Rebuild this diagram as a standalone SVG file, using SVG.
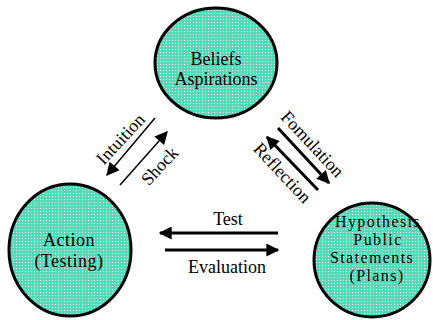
<svg xmlns="http://www.w3.org/2000/svg" width="433" height="320" viewBox="0 0 433 320">
<defs>
<pattern id="dots" width="3" height="3" patternUnits="userSpaceOnUse">
<rect width="3" height="3" fill="#55dab8"/>
<rect x="1" y="1" width="1" height="1" fill="#ffffff"/>
</pattern>
<marker id="ah" viewBox="0 0 10 10" refX="9" refY="5" markerUnits="userSpaceOnUse" markerWidth="15" markerHeight="13" orient="auto">
<path d="M0,0 L10,5 L0,10 Z" fill="#000"/>
</marker>
</defs>
<style>
.node{fill:url(#dots);stroke:#000;stroke-width:3}
.lbl{font-family:'Liberation Serif','DejaVu Serif',serif;font-size:18px;fill:#000;text-anchor:middle}
.hyp{font-size:16px;letter-spacing:1.4px}
.thin{stroke:#000;stroke-width:1.5;fill:none}
.thick{stroke:#000;stroke-width:3;fill:none}
</style>
<rect width="433" height="320" fill="#fff"/>
<g id="beliefs">
<ellipse class="node" cx="216" cy="63" rx="61" ry="55"/>
<text class="lbl" x="216" y="65">Beliefs</text>
<text class="lbl" x="216" y="85">Aspirations</text>
</g>
<g id="action">
<ellipse class="node" cx="70" cy="250" rx="61" ry="66"/>
<text class="lbl" x="69" y="246" letter-spacing="0.5">Action</text>
<text class="lbl" x="69" y="267" letter-spacing="0.5">(Testing)</text>
</g>
<g id="hypothesis">
<ellipse class="node" cx="372" cy="260" rx="58" ry="57"/>
<text class="lbl hyp" x="378" y="227">Hypothesis</text>
<text class="lbl hyp" x="378" y="245">Public</text>
<text class="lbl hyp" x="372" y="263" letter-spacing="1">Statements</text>
<text class="lbl hyp" x="377" y="281">(Plans)</text>
</g>
<g id="connectors">
<line class="thin" x1="155" y1="118" x2="107" y2="175" marker-end="url(#ah)"/>
<line class="thin" x1="120" y1="185" x2="167" y2="132" marker-end="url(#ah)"/>
<line class="thick" x1="278" y1="128" x2="329" y2="183" marker-end="url(#ah)"/>
<line class="thick" x1="318" y1="190" x2="267" y2="137" marker-end="url(#ah)"/>
<line class="thick" x1="278" y1="233" x2="160" y2="233" marker-end="url(#ah)"/>
<line class="thick" x1="165" y1="250" x2="278" y2="250" marker-end="url(#ah)"/>
<text class="lbl" transform="translate(125,143) rotate(-47)">Intuition</text>
<text class="lbl" transform="translate(164,170) rotate(-47)">Shock</text>
<text class="lbl" transform="translate(308,148) rotate(47)">Fomulation</text>
<text class="lbl" transform="translate(278,177) rotate(47)">Reflection</text>
<text class="lbl" x="228" y="225">Test</text>
<text class="lbl" x="227" y="273">Evaluation</text>
</g>
</svg>
